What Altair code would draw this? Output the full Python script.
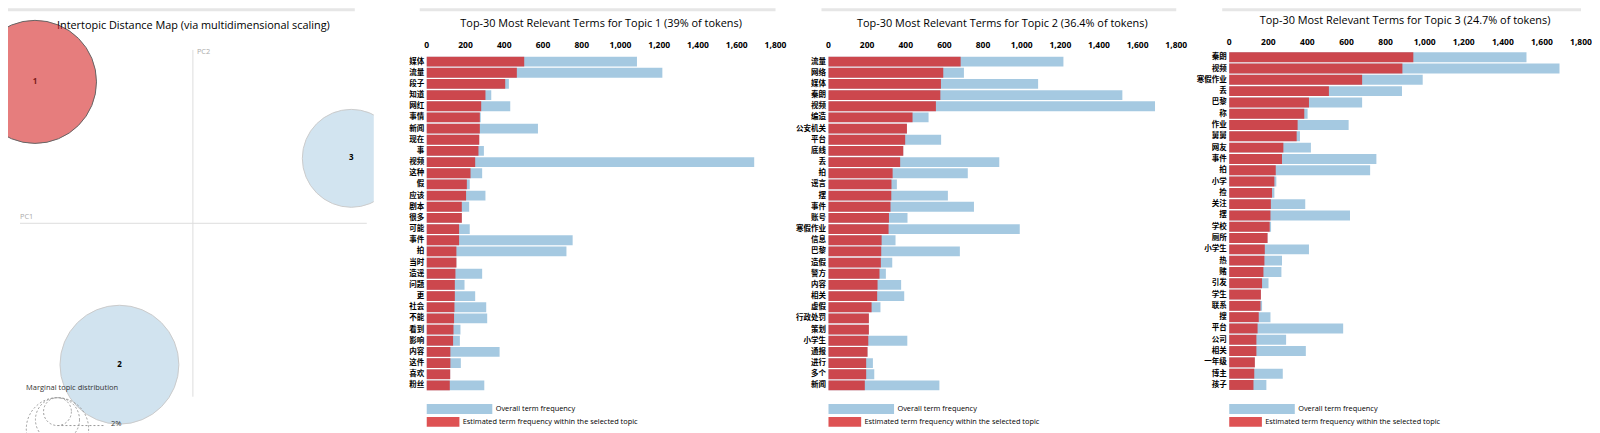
import altair as alt
import pandas as pd

# ---------------- data: intertopic distance map ----------------
topic_ids = [1, 2, 3]
topic_share = [39.0, 36.4, 24.7]          # % of tokens
topic_pc1 = [-0.316, -0.147, 0.317]
topic_pc2 = [0.283, -0.283, 0.130]
selected_topic = 1

pc_axis_names = ["PC1", "PC2"]
pc_axis_x = [-0.346, 0.0]
pc_axis_x2 = [0.348, 0.0]
pc_axis_y = [0.0, 0.347]
pc_axis_y2 = [0.0, -0.347]
pc_label_x = [-0.346, 0.008]
pc_label_y = [0.013, 0.343]

guide_pcts = [2, 5, 10]
guide_labels = ["2%", "5%", "10%"]
guide_title = "Marginal topic distribution"
map_title = "Intertopic Distance Map (via multidimensional scaling)"

# ---------------- data: top-30 terms per topic ----------------
topic1_terms = ["媒体", "流量", "段子", "知道", "网红", "事情", "新闻", "现在", "事", "视频",
                "这种", "假", "应该", "剧本", "很多", "可能", "事件", "拍", "当时", "造谣",
                "问题", "更", "社会", "不能", "看到", "影响", "内容", "这件", "喜欢", "粉丝"]
topic1_est = [503, 465, 405, 303, 281, 274, 274, 271, 267, 250,
              226, 207, 203, 181, 181, 167, 167, 153, 153, 148,
              145, 145, 143, 141, 138, 136, 122, 122, 121, 119]
topic1_total = [1085, 1216, 424, 333, 431, 279, 574, 271, 295, 1690,
                286, 222, 303, 219, 181, 222, 753, 721, 153, 286,
                195, 250, 307, 312, 174, 171, 376, 176, 121, 297]

topic2_terms = ["流量", "网络", "媒体", "秦朗", "视频", "编造", "公安机关", "平台", "底线", "丢",
                "拍", "谣言", "摆", "事件", "账号", "寒假作业", "信息", "巴黎", "造假", "警方",
                "内容", "相关", "虚假", "行政处罚", "策划", "小学生", "通报", "进行", "多个", "新闻"]
topic2_est = [684, 594, 582, 579, 556, 435, 406, 397, 387, 371,
              332, 326, 325, 321, 313, 311, 275, 273, 271, 264,
              254, 252, 223, 209, 209, 206, 202, 195, 195, 188]
topic2_total = [1216, 701, 1085, 1521, 1690, 518, 406, 583, 387, 884,
                721, 354, 618, 753, 409, 990, 347, 680, 330, 297,
                376, 392, 269, 209, 209, 408, 202, 230, 237, 574]

topic3_terms = ["秦朗", "视频", "寒假作业", "丢", "巴黎", "称", "作业", "舅舅", "网友", "事件",
                "拍", "小学", "捡", "关注", "摆", "学校", "厕所", "小学生", "热", "赌",
                "引发", "学生", "联系", "搜", "平台", "公司", "相关", "一年级", "博主", "孩子"]
topic3_est = [942, 886, 680, 510, 408, 384, 350, 345, 277, 270,
              238, 231, 219, 213, 211, 207, 196, 182, 180, 175,
              168, 162, 160, 151, 145, 139, 139, 131, 128, 124]
topic3_total = [1521, 1690, 990, 884, 680, 401, 611, 362, 418, 753,
                721, 241, 231, 389, 618, 214, 196, 408, 270, 267,
                201, 162, 168, 211, 583, 291, 392, 131, 274, 190]

x_ticks = [0, 200, 400, 600, 800, 1000, 1200, 1400, 1600, 1800]
legend_labels = ["Overall term frequency", "Estimated term frequency within the selected topic"]

BLUE = "#1f77b4"
RED = "#d62728"
FONT = "Open Sans"
CJK = "Noto Sans CJK SC"
H = 425  # common plot-area height of every panel

# ---------------- left panel ----------------
W0 = 366
PX_PER_UNIT = 500.0
SIZE_PER_PCT = 388.8
Y_MIN, Y_MAX = -0.4194, 0.4306
xs = alt.Scale(domain=[-0.370, 0.362], nice=False, zero=False)
ys = alt.Scale(domain=[Y_MIN, Y_MAX], nice=False, zero=False)
ss = alt.Scale(type="linear", domain=[0, 100], range=[0, SIZE_PER_PCT * 100])

guide_cx = -0.271
guide_top = -0.349
guide_line_x2 = -0.176
guide_label_x = -0.164
guide_r = [(SIZE_PER_PCT * p) ** 0.5 / 2 / PX_PER_UNIT for p in guide_pcts]
guides = pd.DataFrame({
    "pct": guide_pcts,
    "label": guide_labels,
    "cx": [guide_cx] * 3,
    "cy": [guide_top - r for r in guide_r],
    "ly": [guide_top - 2 * r for r in guide_r],
    "lx2": [guide_line_x2] * 3,
    "tx": [guide_label_x] * 3,
})
guide_head_df = pd.DataFrame({"t": [guide_title], "x": [-0.334], "y": [-0.330]})

topics = pd.DataFrame({"topic": topic_ids, "share": topic_share,
                       "pc1": topic_pc1, "pc2": topic_pc2})
pcax = pd.DataFrame({"name": pc_axis_names, "x": pc_axis_x, "x2": pc_axis_x2,
                     "y": pc_axis_y, "y2": pc_axis_y2, "lx": pc_label_x, "ly": pc_label_y})
is_sel = alt.datum.topic == selected_topic

one = pd.DataFrame({"t": [map_title]})
left_bar = alt.Chart(one).mark_rect(color="#e6e6e6").encode(
    x=alt.value(0), x2=alt.value(347), y=alt.value(0), y2=alt.value(3))
left_title = alt.Chart(one).mark_text(font=FONT, fontSize=10.9, color="#000",
                                      align="center", baseline="middle").encode(
    x=alt.value(185.5), y=alt.value(18), text="t:N")

axes_rules = alt.Chart(pcax).mark_rule(color="#dddddd", strokeWidth=1).encode(
    x=alt.X("x:Q", scale=xs, axis=None), x2="x2:Q",
    y=alt.Y("y:Q", scale=ys, axis=None), y2="y2:Q")
axes_text = alt.Chart(pcax).mark_text(font=FONT, fontSize=7.4, color="#aaaaaa",
                                      align="left", baseline="middle").encode(
    x=alt.X("lx:Q", scale=xs, axis=None), y=alt.Y("ly:Q", scale=ys, axis=None), text="name:N")

circles = alt.Chart(topics).mark_circle(stroke="#000", strokeWidth=1, clip=True).encode(
    x=alt.X("pc1:Q", scale=xs, axis=None),
    y=alt.Y("pc2:Q", scale=ys, axis=None),
    size=alt.Size("share:Q", scale=ss, legend=None),
    fill=alt.condition(is_sel, alt.value(RED), alt.value(BLUE)),
    opacity=alt.condition(is_sel, alt.value(0.6), alt.value(0.2)),
)
circle_text = alt.Chart(topics).mark_text(font=FONT, fontSize=8, fontWeight="bold",
                                          baseline="middle").encode(
    x=alt.X("pc1:Q", scale=xs, axis=None), y=alt.Y("pc2:Q", scale=ys, axis=None),
    text="topic:N",
    color=alt.condition(is_sel, alt.value("#7a1a1a"), alt.value("#000")),
)

guide_head = alt.Chart(guide_head_df).mark_text(
    font=FONT, fontSize=7.5, color="#333", align="left", baseline="middle").encode(
    x=alt.X("x:Q", scale=xs, axis=None), y=alt.Y("y:Q", scale=ys, axis=None), text="t:N")
guide_circles = alt.Chart(guides).mark_point(shape="circle", filled=False, color="#999",
                                             strokeWidth=1, strokeDash=[2, 2], opacity=1,
                                             clip=True).encode(
    x=alt.X("cx:Q", scale=xs, axis=None), y=alt.Y("cy:Q", scale=ys, axis=None),
    size=alt.Size("pct:Q", scale=ss, legend=None))
guide_lines = alt.Chart(guides).mark_rule(color="#999", strokeWidth=1, strokeDash=[2, 2],
                                          clip=True).encode(
    x=alt.X("cx:Q", scale=xs, axis=None), x2="lx2:Q", y=alt.Y("ly:Q", scale=ys, axis=None))
# only the guide labels that fall inside the visible panel are written
guide_text = alt.Chart(guides).transform_filter(
    alt.datum.ly >= Y_MIN + 0.005
).mark_text(font=FONT, fontSize=7.5, color="#333", align="left",
            baseline="alphabetic").encode(
    x=alt.X("tx:Q", scale=xs, axis=None), y=alt.Y("ly:Q", scale=ys, axis=None), text="label:N")

left = alt.layer(left_bar, left_title, axes_rules, axes_text, circles, circle_text,
                 guide_head, guide_circles, guide_lines, guide_text).properties(
    width=W0, height=H)


# ---------------- bar panels ----------------
def bar_panel(terms, est, total, topic_no, share_label, width,
              band=(48, 383), tick_y=37, title_y=16):
    df = pd.DataFrame({"term": terms, "Freq": est, "Total": total})
    xsc = alt.Scale(domain=[0, 1800], nice=False, zero=True)
    yenc = alt.Y("term:N", sort=terms,
                 scale=alt.Scale(range=list(band), paddingInner=0.12, paddingOuter=0.05),
                 axis=alt.Axis(title=None, ticks=False, domain=False, labelPadding=3,
                               labelFont=CJK, labelFontSize=7.5, labelFontWeight="bold",
                               labelColor="#000", labelLimit=200))
    overall = alt.Chart(df).mark_bar(color=BLUE, opacity=0.4).encode(
        x=alt.X("Total:Q", scale=xsc, axis=None), y=yenc)
    within = alt.Chart(df).mark_bar(color=RED, opacity=0.8).encode(
        x=alt.X("Freq:Q", scale=xsc, axis=None), y=yenc)

    tick_df = pd.DataFrame({"v": x_ticks})
    tick_labels = alt.Chart(tick_df).mark_text(font=FONT, fontSize=8.5, fontWeight="bold",
                                               color="#000", align="center",
                                               baseline="middle").encode(
        x=alt.X("v:Q", scale=xsc, axis=None), y=alt.value(tick_y),
        text=alt.Text("v:Q", format=","))

    title = f"Top-30 Most Relevant Terms for Topic {topic_no} ({share_label} of tokens)"
    tdf = pd.DataFrame({"t": [title]})
    top_bar = alt.Chart(tdf).mark_rect(color="#e6e6e6").encode(
        x=alt.value(-7), x2=alt.value(width), y=alt.value(0), y2=alt.value(3))
    title_mark = alt.Chart(tdf).mark_text(font=FONT, fontSize=10.9, color="#000",
                                          align="center", baseline="middle").encode(
        x=alt.value(width / 2), y=alt.value(title_y), text="t:N")

    leg_a = pd.DataFrame({"label": [legend_labels[0]]})
    leg_b = pd.DataFrame({"label": [legend_labels[1]]})
    lb = alt.Chart(leg_a).mark_rect(color=BLUE, opacity=0.4).encode(
        x=alt.value(0), x2=alt.value(65.6), y=alt.value(396), y2=alt.value(406))
    lr = alt.Chart(leg_b).mark_rect(color=RED, opacity=0.8).encode(
        x=alt.value(0), x2=alt.value(32.7), y=alt.value(409), y2=alt.value(419))
    lbt = alt.Chart(leg_a).mark_text(font=FONT, fontSize=7.4, color="#000", align="left",
                                     baseline="middle").encode(
        x=alt.value(69), y=alt.value(401), text="label:N")
    lrt = alt.Chart(leg_b).mark_text(font=FONT, fontSize=7.4, color="#000", align="left",
                                     baseline="middle").encode(
        x=alt.value(36), y=alt.value(414), text="label:N")

    return alt.layer(overall, within, tick_labels, top_bar, title_mark,
                     lb, lr, lbt, lrt).properties(width=width, height=H)


p1 = bar_panel(topic1_terms, topic1_est, topic1_total, 1, "39%", 349)
p2 = bar_panel(topic2_terms, topic2_est, topic2_total, 2, "36.4%", 348)
p3 = bar_panel(topic3_terms, topic3_est, topic3_total, 3, "24.7%", 352,
               band=(43.6, 382.6), tick_y=34, title_y=13)

chart = alt.hconcat(left, p1, p2, p3, spacing=53).properties(
    bounds="flush", padding=0
).configure(font=FONT).configure_view(stroke=None)

chart.save("out.html", embed_options={"renderer": "svg", "actions": False})
